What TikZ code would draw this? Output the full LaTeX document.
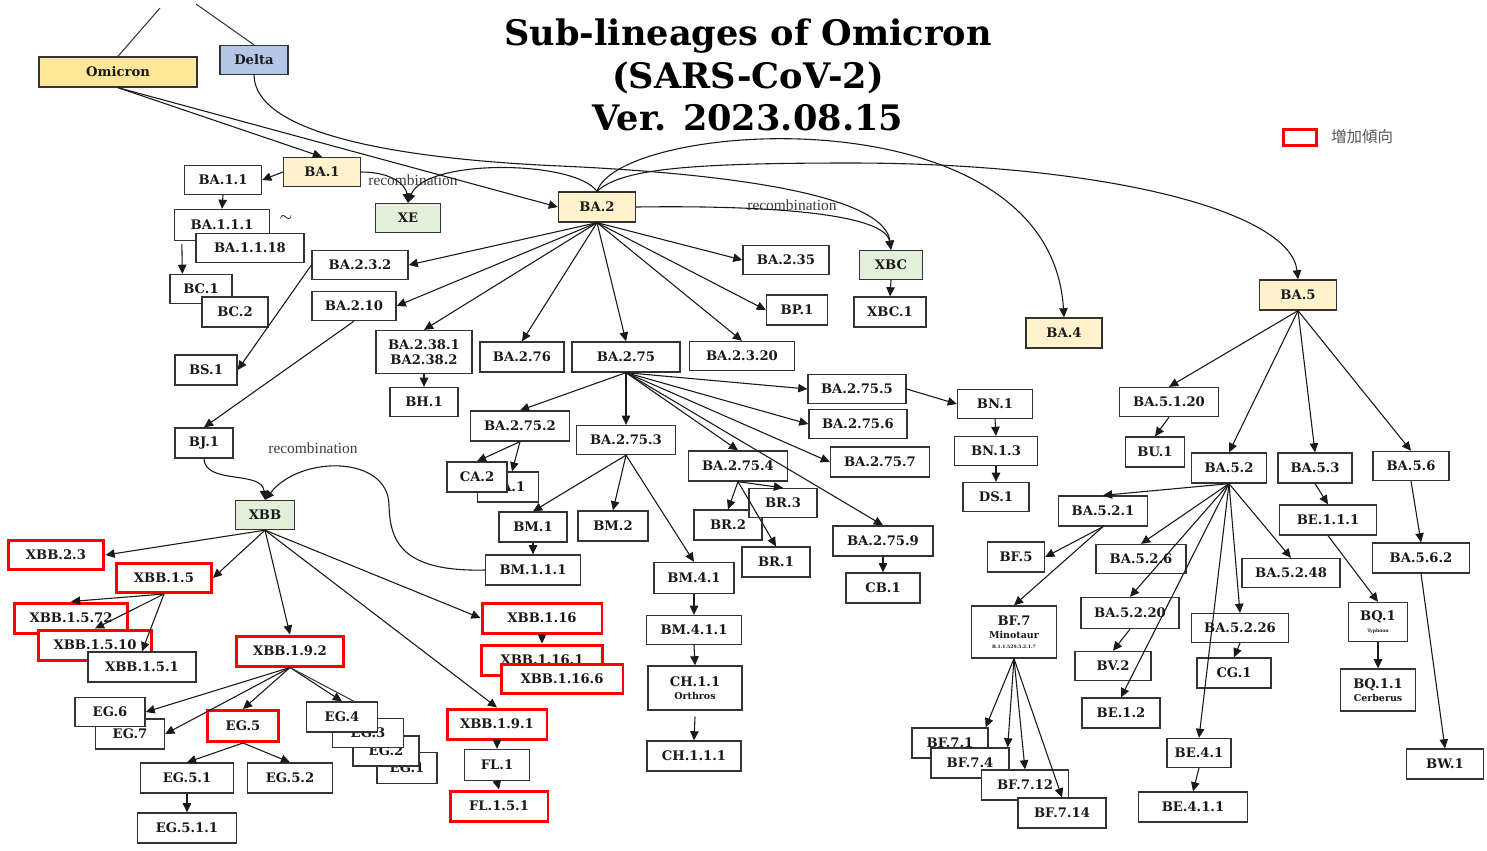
\documentclass[tikz,border=0pt]{standalone}
\usepackage{fontspec}
\setmainfont{DejaVu Serif}
\newfontfamily\lblserif{Liberation Serif}
\newfontfamily\cjk{Noto Sans CJK JP}
\usepackage{tikz}
\usetikzlibrary{arrows.meta,calc}
\definecolor{lnInk}{HTML}{1A1A1A}
\definecolor{lnEdge}{HTML}{333333}
\definecolor{lnOmi}{HTML}{FFE699}
\definecolor{lnBA}{HTML}{FFF2CC}
\definecolor{lnDelta}{HTML}{B4C7E7}
\definecolor{lnRec}{HTML}{E2EFDA}
\definecolor{lnRed}{HTML}{FF0000}
\newcommand\bxf{\fontsize{7.5pt}{8.6pt}\selectfont\bfseries}
\newcommand\subf{\fontsize{5.4pt}{6.2pt}\selectfont\bfseries}
\newcommand\tinyf{\fontsize{2.6pt}{3pt}\selectfont}
\newcommand\titlef{\fontsize{20pt}{24pt}\selectfont\bfseries}
\tikzset{
  % plain lineage box
  lin/.style={rectangle,draw=lnEdge,line width=0.75pt,fill=white,
    inner sep=0pt,minimum height=5.8mm,align=center,
    font=\bxf,text=lnInk},
  % Omicron (root)
  omi/.style={lin,fill=lnOmi},
  % main BA lineages
  anc/.style={lin,fill=lnBA},
  % Delta
  dlt/.style={lin,fill=lnDelta},
  % recombinant (green)
  rec/.style={lin,fill=lnRec},
  % increasing (red frame)
  hot/.style={lin,draw=lnRed,line width=1.7pt},
  % sizes in pixels of the layout
  bw/.style={minimum width=#1*0.2mm},
  bh/.style={minimum height=#1*0.2mm},
  % connectors
  arr/.style={-{Triangle[length=5.2pt,width=4.8pt]},line width=0.62pt,draw=lnInk},
  lnk/.style={line width=0.62pt,draw=lnInk!85},
  lbl/.style={font=\lblserif\fontsize{8.8pt}{10pt}\selectfont,text=lnInk!85},
}
\begin{document}
\begin{tikzpicture}[x=0.02cm,y=-0.02cm]
  \useasboundingbox (0,0) rectangle (1487,850);

  % Title and legend
  \node[font=\titlef,align=center,text=black] (title) at (748,75)
    {Sub-lineages of Omicron\\(SARS-CoV-2)\\Ver. 2023.08.15};
  \node[draw=lnRed,line width=1.7pt,minimum width=33*0.2mm,minimum height=16*0.2mm] (legbox) at (1300,137) {};
  \node[anchor=west,font=\cjk\fontsize{8.8pt}{10pt}\selectfont,text=black!65] (legtxt) at (1325,137) {増加傾向};

  % Roots
  \node[omi,bw=158,bh=30] (Omi) at (118,72) {Omicron};
  \node[dlt,bw=68] (Delta) at (254,60) {Delta};
  \coordinate (omiUp) at (160,8);
  \coordinate (dltUp) at (196,4);

  % BA.1 branch
  \node[anc,bw=77] (BA1) at (322,172) {BA.1};
  \node[lin,bw=77] (BA11) at (223,180) {BA.1.1};
  \node[lin,bw=95,bh=31] (BA111) at (222,225) {BA.1.1.1};
  \node[lin,bw=108] (BA1118) at (250,248) {BA.1.1.18};
  \node[font=\small] (tilde) at (286,219) {$\sim$};
  \node[lin,bw=62] (BC1) at (201,289) {BC.1};
  \node[lin,bw=66,bh=30] (BC2) at (235,312) {BC.2};
  \node[rec,bw=65] (XE) at (408,218) {XE};

  % BA.2 branch
  \node[anc,bw=77,bh=30] (BA2) at (597,207) {BA.2};
  \node[lin,bw=96] (BA232) at (360,265) {BA.2.3.2};
  \node[lin,bw=84] (BA210) at (354,306) {BA.2.10};
  \node[lin,bw=62,bh=30] (BS1) at (206,370) {BS.1};
  \node[lin,bw=58,bh=30] (BJ1) at (204,443) {BJ.1};
  \node[lin,bw=96,bh=43] (BA238) at (424,352) {BA.2.38.1\\BA2.38.2};
  \node[lin,bw=68] (BH1) at (424,402) {BH.1};
  \node[lin,bw=84,bh=30] (BA276) at (522,357) {BA.2.76};
  \node[lin,bw=108,bh=30] (BA275) at (626,357) {BA.2.75};
  \node[lin,bw=105] (BA2320) at (742,356) {BA.2.3.20};
  \node[lin,bw=86] (BA235) at (786,260) {BA.2.35};
  \node[lin,bw=61,bh=30] (BP1) at (797,310) {BP.1};
  \node[rec,bw=63] (XBC) at (891,265) {XBC};
  \node[lin,bw=72,bh=30] (XBC1) at (890,312) {XBC.1};
  \node[anc,bw=76,bh=30] (BA4) at (1064,333) {BA.4};
  \node[anc,bw=77,bh=30] (BA5) at (1298,295) {BA.5};

  % BA.2.75 branch
  \node[lin,bw=98] (BA2755) at (857,389) {BA.2.75.5};
  \node[lin,bw=98] (BA2756) at (858,424) {BA.2.75.6};
  \node[lin,bw=99,bh=30] (BA2757) at (880,462) {BA.2.75.7};
  \node[lin,bw=99,bh=30] (BA2752) at (520,426) {BA.2.75.2};
  \node[lin,bw=99] (BA2753) at (626,440) {BA.2.75.3};
  \node[lin,bw=61,bh=30] (CA1) at (508,487) {CA.1};
  \node[lin,bw=60,bh=30] (CA2) at (477,477) {CA.2};
  \node[lin,bw=68,bh=30] (BM1) at (533,527) {BM.1};
  \node[lin,bw=70,bh=30] (BM2) at (613,526) {BM.2};
  \node[lin,bw=95,bh=30] (BM111) at (533,570) {BM.1.1.1};
  \node[lin,bw=99,bh=30] (BA2754) at (738,466) {BA.2.75.4};
  \node[lin,bw=68,bh=30] (BR2) at (728,525) {BR.2};
  \node[lin,bw=68] (BR3) at (783,503) {BR.3};
  \node[lin,bw=68,bh=30] (BR1) at (776,562) {BR.1};
  \node[lin,bw=100,bh=30] (BA2759) at (883,541) {BA.2.75.9};
  \node[lin,bw=74,bh=30] (CB1) at (883,588) {CB.1};
  \node[lin,bw=75] (BN1) at (995,404) {BN.1};
  \node[lin,bw=83] (BN13) at (996,451) {BN.1.3};
  \node[lin,bw=66] (DS1) at (996,497) {DS.1};
  \node[lin,bw=80,bh=31] (BM41) at (694,578) {BM.4.1};
  \node[lin,bw=95] (BM411) at (694,630) {BM.4.1.1};
  \node[lin,bw=94,bh=44] (CH11) at (695,688) {CH.1.1\\[-1pt]{\subf Orthros}};
  \node[lin,bw=94,bh=30] (CH111) at (694,756) {CH.1.1.1};

  % XBB branch
  \node[rec,bw=59] (XBB) at (265,515) {XBB};
  \node[hot,bw=96] (XBB23) at (56,555) {XBB.2.3};
  \node[hot,bw=95] (XBB15) at (164,578) {XBB.1.5};
  \node[hot,bw=113,bh=30] (XBB1572) at (71,618) {XBB.1.5.72};
  \node[hot,bw=113,bh=30] (XBB1510) at (95,645) {XBB.1.5.10};
  \node[lin,bw=108,bh=30] (XBB151) at (142,667) {XBB.1.5.1};
  \node[hot,bw=107,bh=30] (XBB192) at (290,651) {XBB.1.9.2};
  \node[lin,bw=60,bh=31] (EG1) at (407,768) {EG.1};
  \node[lin,bw=66,bh=30] (EG2) at (386,751) {EG.2};
  \node[lin,bw=71] (EG3) at (368,733) {EG.3};
  \node[lin,bw=71,bh=30] (EG4) at (342,717) {EG.4};
  \node[lin,bw=69,bh=30] (EG7) at (130,734) {EG.7};
  \node[lin,bw=70] (EG6) at (110,712) {EG.6};
  \node[hot,bw=71,bh=31] (EG5) at (243,726) {EG.5};
  \node[lin,bw=93,bh=30] (EG51) at (187,778) {EG.5.1};
  \node[lin,bw=85,bh=30] (EG52) at (290,778) {EG.5.2};
  \node[lin,bw=99,bh=30] (EG511) at (187,828) {EG.5.1.1};
  \node[hot,bw=120,bh=30] (XBB116) at (542,618) {XBB.1.16};
  \node[hot,bw=121,bh=30] (XBB1161) at (542,660) {XBB.1.16.1};
  \node[hot,bw=122] (XBB1166) at (562,679) {XBB.1.16.6};
  \node[hot,bw=100,bh=30] (XBB191) at (497,724) {XBB.1.9.1};
  \node[lin,bw=65,bh=31] (FL1) at (497,765) {FL.1};
  \node[hot,bw=98,bh=30] (FL151) at (499,806) {FL.1.5.1};

  % BA.5 branch
  \node[lin,bw=99] (BA5120) at (1169,402) {BA.5.1.20};
  \node[lin,bw=59,bh=30] (BU1) at (1155,452) {BU.1};
  \node[lin,bw=75,bh=30] (BA52) at (1229,468) {BA.5.2};
  \node[lin,bw=74,bh=30] (BA53) at (1315,468) {BA.5.3};
  \node[lin,bw=76] (BA56) at (1411,466) {BA.5.6};
  \node[lin,bw=89,bh=30] (BA521) at (1103,511) {BA.5.2.1};
  \node[lin,bw=97,bh=30] (BE111) at (1328,520) {BE.1.1.1};
  \node[lin,bw=97,bh=30] (BA562) at (1421,558) {BA.5.6.2};
  \node[lin,bw=57,bh=30] (BF5) at (1016,557) {BF.5};
  \node[lin,bw=90] (BA526) at (1141,559) {BA.5.2.6};
  \node[lin,bw=98] (BA5248) at (1291,573) {BA.5.2.48};
  \node[lin,bw=85,bh=52] (BF7) at (1014,632)
    {BF.7\\[-1pt]{\subf Minotaur}\\[-3pt]{\tinyf B.1.1.529.5.2.1.7}};
  \node[lin,bw=98,bh=31] (BA5220) at (1130,613) {BA.5.2.20};
  \node[lin,bw=97] (BA5226) at (1240,628) {BA.5.2.26};
  \node[lin,bw=76] (BV2) at (1113,666) {BV.2};
  \node[lin,bw=74,bh=30] (CG1) at (1234,673) {CG.1};
  \node[lin,bw=78,bh=30] (BE12) at (1121,713) {BE.1.2};
  \node[lin,bw=59,bh=39] (BQ1) at (1378,622) {BQ.1\\[-2pt]{\tinyf Typhoon}};
  \node[lin,bw=75,bh=42] (BQ11) at (1378,690) {BQ.1.1\\[-1pt]{\subf Cerberus}};
  \node[lin,bw=64] (BE41) at (1199,753) {BE.4.1};
  \node[lin,bw=109,bh=30] (BE411) at (1193,807) {BE.4.1.1};
  \node[lin,bw=77,bh=30] (BW1) at (1445,764) {BW.1};
  \node[lin,bw=76,bh=30] (BF71) at (950,743) {BF.7.1};
  \node[lin,bw=78,bh=30] (BF74) at (970,763) {BF.7.4};
  \node[lin,bw=87,bh=30] (BF712) at (1025,785) {BF.7.12};
  \node[lin,bw=88,bh=30] (BF714) at (1062,813) {BF.7.14};

  % recombination labels
  \node[lbl] (recA) at (413,180) {recombination};
  \node[lbl] (recB) at (792,205) {recombination};
  \node[lbl] (recC) at (313,448) {recombination};

  % Root connectors
  \draw[lnk] (Omi.north) -- (omiUp);
  \draw[lnk] (Delta.north) -- (dltUp);
  \draw[arr] (Omi.south) -- (BA1.north);
  \draw[arr] (Omi.south) -- (BA2.west);
  \draw[arr] (Delta.south) .. controls (255,130) and (380,158) .. (560,166)
    .. controls (760,175) and (885,200) .. (XBC.north);
  \draw[arr] (BA2.east) .. controls (780,205) and (885,215) .. (XBC.north);
  \draw[arr] (BA1.east) .. controls (392,172) and (406,185) .. (XE.north);
  \draw[arr] (BA2.north) .. controls (575,160) and (425,158) .. (XE.north);
  \draw[arr] (BA2.north) .. controls (620,120) and (1050,90) .. (BA4.north);
  \draw[arr] (BA2.north) .. controls (620,170) and (680,163) .. (850,163)
    .. controls (1100,163) and (1290,210) .. (BA5.north);

  % BA.1
  \draw[arr] (BA1.west) -- (BA11.east);
  \draw[arr] (BA11.south) -- (BA111.north);
  \draw[arr] ($(BA111.south west)+(8,3)$) -- ($(BC1.north west)+(13,0)$);

  % BA.2
  \foreach \kid in {BA232.east,BA210.east,BA238.north,BA276.north,BA275.north,BA2320.north,BP1.west,BA235.west}
    \draw[arr] (BA2.south) -- (\kid);
  \draw[arr] (BA232.west) -- (BS1.east);
  \draw[arr] (BA210.south) -- (BJ1.north);
  \draw[arr] (BA238.south) -- (BH1.north);
  \draw[arr] (XBC.south) -- (XBC1.north);

  % BA.2.75
  \foreach \kid in {BA2752.north,BA2753.north,BA2754.north,BA2759.north,BA2757.west,BA2756.west,BA2755.west}
    \draw[arr] (BA275.south) -- (\kid);
  \draw[arr] (BA2752.south) -- (CA2.north);
  \draw[arr] (BA2752.south) -- ($(CA1.north)+(4,0)$);
  \foreach \kid in {BM1.north,BM2.north,BM41.north}
    \draw[arr] (BA2753.south) -- (\kid);
  \draw[arr] (BM1.south) -- (BM111.north);
  \draw[arr] (BA2754.south) -- (BR2.north);
  \draw[arr] (BA2754.south) -- (BR3.north);
  \draw[arr] (BA2754.south) -- (BR1.north);
  \draw[arr] (BA2759.south) -- (CB1.north);
  \draw[arr] (BA2755.east) -- (BN1.west);
  \draw[arr] (BN1.south) -- (BN13.north);
  \draw[arr] (BN13.south) -- (DS1.north);
  \draw[arr] (BM41.south) -- (BM411.north);
  \draw[arr] (BM411.south) -- (CH11.north);
  \draw[arr] ($(CH11.south)+(0,6)$) -- (CH111.north);

  % XBB
  \draw[arr] (BJ1.south) .. controls (205,485) and (262,470) .. (XBB.north);
  \draw[arr] (BM111.west) .. controls (400,572) and (390,540) .. (389,505)
    .. controls (388,455) and (300,455) .. (XBB.north);
  \foreach \kid in {XBB23.east,XBB15.east,XBB192.north,XBB116.west,XBB191.north}
    \draw[arr] (XBB.south) -- (\kid);
  \foreach \kid in {XBB1572.north,XBB1510.north,XBB151.north}
    \draw[arr] (XBB15.south) -- (\kid);
  \foreach \kid in {EG6.east,EG7.east,EG5.north,EG4.north}
    \draw[arr] (XBB192.south) -- (\kid);
  \draw[lnk] (XBB192.south) -- ($(EG4.north)+(12,0)$);
  \draw[arr] (EG5.south) -- (EG51.north);
  \draw[arr] (EG5.south) -- (EG52.north);
  \draw[arr] (EG51.south) -- (EG511.north);
  \draw[arr] (XBB116.south) -- (XBB1161.north);
  \draw[arr] (XBB191.south) -- (FL1.north);
  \draw[arr] (FL1.south) -- (FL151.north);

  % BA.5
  \foreach \kid in {BA5120.north,BA52.north,BA53.north,BA56.north}
    \draw[arr] (BA5.south) -- (\kid);
  \draw[arr] (BA5120.south) -- (BU1.north);
  \draw[arr] (BA53.south) -- (BE111.north);
  \draw[arr] (BE111.south) -- (BQ1.north);
  \draw[arr] (BQ1.south) -- (BQ11.north);
  \draw[arr] (BA56.south) -- (BA562.north);
  \draw[arr] (BA562.south) -- (BW1.north);
  \foreach \kid in {BA521.north,BA526.north,BA5220.north,BE12.north,BE41.north,BA5226.north,BA5248.north}
    \draw[arr] (BA52.south) -- (\kid);
  \draw[arr] (BA521.south) -- (BF5.east);
  \draw[arr] (BA521.south) -- (BF7.north);
  \draw[arr] (BF7.south) -- ($(BF71.north east)+(-3,0)$);
  \draw[arr] (BF7.south) -- ($(BF74.north east)+(-2,0)$);
  \draw[arr] (BF7.south) -- (BF712.north);
  \draw[arr] (BF7.south) -- (BF714.north);
  \draw[arr] (BA5220.south) -- (BV2.north);
  \draw[arr] (BA5226.south) -- (CG1.north);
  \draw[arr] (BE41.south) -- (BE411.north);
\end{tikzpicture}
\end{document}
